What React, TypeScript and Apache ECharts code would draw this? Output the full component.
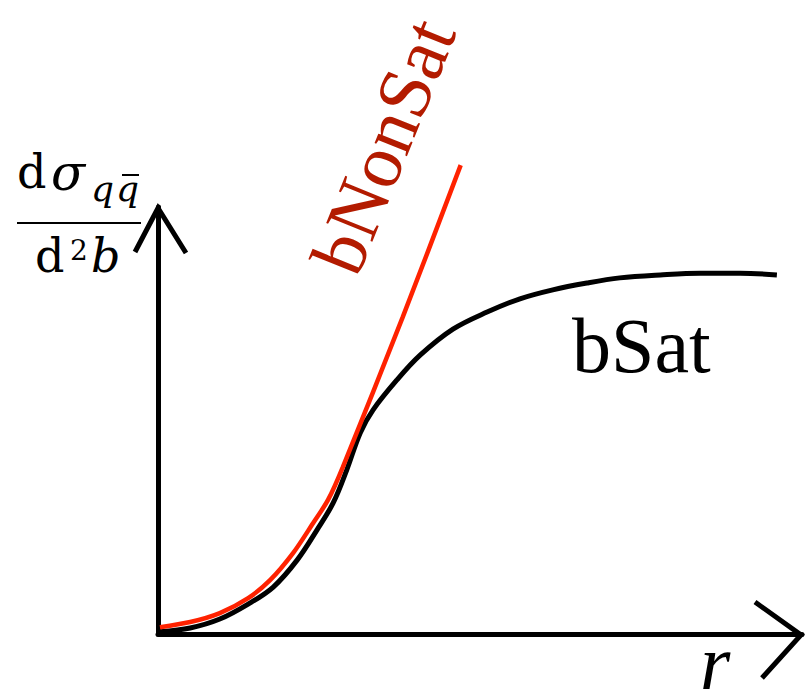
import React, { useEffect, useRef } from "react";
import * as echarts from "echarts";

// r positions (arbitrary units) and cross-section values
const satR = [0.03, 0.5, 0.96, 1.4, 1.79, 2.16, 2.47, 2.72, 2.93, 3.14, 3.34, 3.71, 4.07, 4.58, 5.11, 5.62, 6.13, 6.66, 7.17, 7.8, 8.42, 9.04, 9.61];
const satV = [0.05, 0.14, 0.35, 0.7, 1.1, 1.73, 2.44, 3.07, 3.84, 4.71, 5.25, 5.95, 6.53, 7.14, 7.54, 7.85, 8.06, 8.22, 8.34, 8.41, 8.45, 8.45, 8.41];
const nonSatR = [0.03, 0.5, 0.96, 1.4, 1.74, 2.1, 2.41, 2.64, 2.87, 3.8, 4.7];
const nonSatV = [0.16, 0.28, 0.49, 0.84, 1.26, 1.9, 2.6, 3.14, 3.91, 7.42, 10.98];

const satLabel = "bSat";
const nonSatLabel = "bNonSat";
const xLabel = "r";

const serif = "'Liberation Serif', 'Times New Roman', serif";
const math = "'DejaVu Serif', serif";

export default function App() {
  const ref = useRef<HTMLDivElement>(null);
  useEffect(() => {
    if (!ref.current) return;
    const chart = echarts.init(ref.current, null, { renderer: "svg" });
    const satData = satR.map((r, i) => [r, satV[i]]);
    const nonSatData = nonSatR.map((r, i) => [r, nonSatV[i]]);
    const txt = (x: number, y: number, text: string, font: string, fill = "#000") => ({
      type: "text",
      x,
      y,
      z: 20,
      style: { text, font, fill, align: "left", verticalAlign: "middle" },
    });
    chart.setOption({
      animation: false,
      backgroundColor: "#ffffff",
      grid: { left: 158, top: 207, width: 644, height: 427, containLabel: false },
      xAxis: {
        type: "value",
        min: 0,
        max: 10,
        axisLine: { show: true, onZero: false, lineStyle: { color: "#000", width: 5 } },
        axisTick: { show: false },
        axisLabel: { show: false },
        splitLine: { show: false },
      },
      yAxis: {
        type: "value",
        min: 0,
        max: 10,
        axisLine: { show: true, onZero: false, lineStyle: { color: "#000", width: 5 } },
        axisTick: { show: false },
        axisLabel: { show: false },
        splitLine: { show: false },
      },
      series: [
        {
          name: satLabel,
          type: "line",
          data: satData,
          smooth: 0.35,
          showSymbol: false,
          clip: false,
          lineStyle: { color: "#000000", width: 5 },
          z: 2,
        },
        {
          name: nonSatLabel,
          type: "line",
          data: nonSatData,
          smooth: 0.3,
          showSymbol: false,
          clip: false,
          lineStyle: { color: "#ff2200", width: 4.5 },
          z: 3,
        },
      ],
      graphic: [
        // arrow heads
        {
          type: "polyline",
          shape: { points: [[135, 252], [158, 208], [186, 253]] },
          style: { stroke: "#000", lineWidth: 5, fill: null },
          z: 10,
        },
        {
          type: "polyline",
          shape: { points: [[755, 602], [801, 635], [762, 678]] },
          style: { stroke: "#000", lineWidth: 5, fill: null },
          z: 10,
        },
        // y label: dσ_{q q̄} / d²b
        txt(17, 172, "d", `46px ${math}`),
        txt(51, 173, "σ", `italic 50px ${math}`),
        txt(91, 188, "q", `italic 36px ${math}`),
        txt(116, 188, "q", `italic 36px ${math}`),
        { type: "line", z: 20, shape: { x1: 122, y1: 175, x2: 139, y2: 175 }, style: { stroke: "#000", lineWidth: 2 } },
        { type: "line", z: 20, shape: { x1: 17, y1: 223, x2: 141, y2: 223 }, style: { stroke: "#000", lineWidth: 2 } },
        txt(35, 256, "d", `46px ${math}`),
        txt(70, 250, "2", `28px ${math}`),
        txt(91, 256, "b", `italic 46px ${math}`),
        // curve labels
        txt(572, 345, satLabel, `78px ${serif}`),
        {
          type: "text",
          x: 383,
          y: 146,
          z: 20,
          rotation: (68 * Math.PI) / 180,
          style: { text: nonSatLabel, font: `76px ${serif}`, fill: "#b31b00", align: "center", verticalAlign: "middle" },
        },
        txt(700, 662, xLabel, `italic 78px ${serif}`),
      ],
    });
    return () => chart.dispose();
  }, []);
  return <div ref={ref} style={{ position: "fixed", left: 0, top: 0, width: 809, height: 689, background: "#fff" }} />;
}
